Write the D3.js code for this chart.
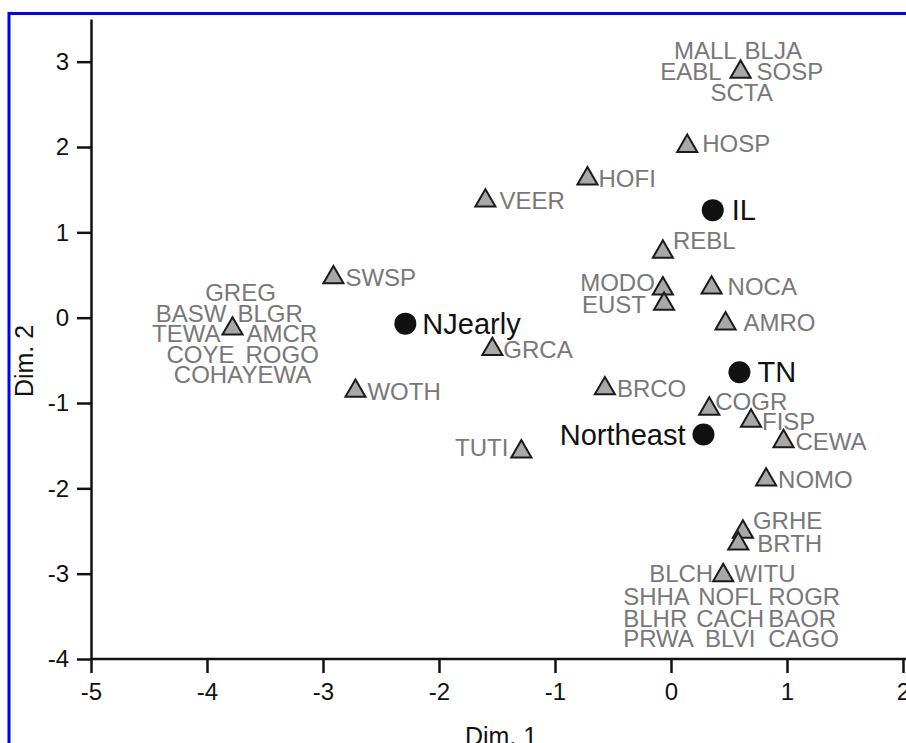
<!DOCTYPE html>
<html>
<head>
<meta charset="utf-8">
<script src="https://cdn.jsdelivr.net/npm/d3@7"></script>
<style>
  body { margin: 0; background: #fff; }
  svg { display: block; font-family: "Liberation Sans", Arial, sans-serif; }
</style>
</head>
<body>
<svg id="chart" width="906" height="743"></svg>
<script>
// sites (black circles)
const siteNames = ['NJearly', 'IL', 'TN', 'Northeast']
const siteDim1 = [-2.29, 0.36, 0.59, 0.28]
const siteDim2 = [-0.07, 1.26, -0.64, -1.37]

// species (grey triangles); each entry is a list of label rows
const speciesLabels = [
  [['SWSP']], [['VEER']], [['HOFI']], [['HOSP']], [['REBL']],
  [['MODO']], [['EUST']], [['NOCA']], [['AMRO']], [['GRCA']],
  [['BRCO']], [['COGR']], [['FISP']], [['CEWA']], [['TUTI']],
  [['NOMO']], [['GRHE']], [['BRTH']], [['WOTH']],
  [['GREG'], ['BASW', 'BLGR'], ['TEWA', 'AMCR'], ['COYE', 'ROGO'], ['COHAYEWA']],
  [['MALL', 'BLJA'], ['EABL', 'SOSP'], ['SCTA']],
  [['BLCH', 'WITU'], ['SHHA', 'NOFL', 'ROGR'], ['BLHR', 'CACH', 'BAOR'], ['PRWA', 'BLVI', 'CAGO']]
]
const speciesDim1 = [-2.91, -1.60, -0.72, 0.14, -0.07,
  -0.07, -0.06, 0.35, 0.47, -1.54,
  -0.57, 0.33, 0.69, 0.97, -1.29,
  0.82, 0.62, 0.58, -2.72,
  -3.78, 0.60, 0.45]
const speciesDim2 = [0.47, 1.37, 1.63, 2.01, 0.77,
  0.34, 0.16, 0.35, -0.07, -0.37,
  -0.83, -1.07, -1.21, -1.45, -1.57,
  -1.90, -2.51, -2.65, -0.86,
  -0.13, 2.88, -3.02]

const xTicks = [-5, -4, -3, -2, -1, 0, 1, 2]
const yTicks = [-4, -3, -2, -1, 0, 1, 2, 3]

// label placement: rows of [dy, [[anchor, dx], ...]] keyed by first code
const placement = {
  SWSP: [[0, [['start', 12]]]],
  VEER: [[0, [['start', 14]]]],
  HOFI: [[0, [['start', 11]]]],
  HOSP: [[-3, [['start', 15]]]],
  REBL: [[-12, [['start', 10]]]],
  MODO: [[-6, [['end', -8]]]],
  EUST: [[0, [['end', -18]]]],
  NOCA: [[-1, [['start', 16]]]],
  AMRO: [[-1, [['start', 18]]]],
  GRCA: [[0, [['start', 11]]]],
  BRCO: [[0, [['start', 12]]]],
  COGR: [[-8, [['start', 6]]]],
  FISP: [[0, [['start', 11]]]],
  CEWA: [[0, [['start', 12]]]],
  TUTI: [[-4, [['end', -13]]]],
  NOMO: [[0, [['start', 12]]]],
  GRHE: [[-11, [['start', 10]]]],
  BRTH: [[0, [['start', 19]]]],
  WOTH: [[0, [['start', 12]]]],
  GREG: [[-36, [['middle', 8]]], [-15.5, [['end', -6], ['start', 5]]],
    [5, [['end', -12], ['start', 14]]], [25.5, [['end', 2], ['start', 13]]],
    [46, [['middle', 10]]]],
  MALL: [[-22, [['end', -4], ['start', 4]]], [-1, [['end', -19], ['start', 16]]],
    [20, [['middle', 1]]]],
  BLCH: [[-2, [['end', -10], ['start', 11]]], [21, [['start', -100], ['middle', 7], ['start', 45]]],
    [43, [['start', -100], ['middle', 7], ['start', 45]]],
    [63, [['start', -100], ['middle', 7], ['start', 45]]]]
}

const svg = d3.select('#chart')

const x = d3.scaleLinear().domain([-5, 2]).range([91, 903])
const y = d3.scaleLinear().domain([-4, 3.5]).range([659, 19])

// blue frame (cropped at right and bottom)
svg.append('rect')
  .attr('x', 9).attr('y', 13.5)
  .attr('width', 1000).attr('height', 1000)
  .attr('fill', 'none')
  .attr('stroke', '#0000ff')
  .attr('stroke-width', 3)

const fmt = d => String(d)

const gx = svg.append('g')
  .attr('transform', `translate(0,${y(-4)})`)
  .call(d3.axisBottom(x).tickValues(xTicks).tickFormat(fmt).tickSize(14).tickSizeOuter(0).tickPadding(10))
gx.select('.domain').attr('d', `M${x(-5)},0H906`)

const gy = svg.append('g')
  .attr('transform', `translate(${x(-5)},0)`)
  .call(d3.axisLeft(y).tickValues(yTicks).tickFormat(fmt).tickSize(14).tickSizeOuter(0).tickPadding(8))

svg.selectAll('.domain, .tick line')
  .attr('stroke', '#111')
  .attr('stroke-width', 2.5)
svg.selectAll('.tick text')
  .attr('fill', '#111')
  .style('font-size', '24px')
  .style('font-family', '"Liberation Sans", Arial, sans-serif')

// axis titles
svg.append('text')
  .attr('x', 501).attr('y', 745)
  .attr('text-anchor', 'middle')
  .attr('fill', '#111')
  .style('font-size', '25px')
  .text('Dim. 1')

svg.append('text')
  .attr('transform', 'translate(33,361) rotate(-90)')
  .attr('text-anchor', 'middle')
  .attr('fill', '#111')
  .style('font-size', '25px')
  .text('Dim. 2')

// species triangles and labels
const species = speciesLabels.map((rows, i) => ({ rows, d1: speciesDim1[i], d2: speciesDim2[i] }))
const labelSize = 24

const sg = svg.append('g')
species.forEach(d => {
  const px = x(d.d1)
  const py = y(d.d2)
  const rules = placement[d.rows[0][0]]
  d.rows.forEach((row, r) => {
    const [dy, cols] = rules[r]
    row.forEach((code, c) => {
      const [anchor, dx] = cols[c]
      sg.append('text')
        .attr('x', px + dx)
        .attr('y', py + dy + labelSize * 0.36)
        .attr('text-anchor', anchor)
        .attr('fill', '#787878')
        .style('font-size', labelSize + 'px')
        .text(code)
    })
  })
})

sg.selectAll('path.tri')
  .data(species)
  .join('path')
  .attr('class', 'tri')
  .attr('transform', d => `translate(${x(d.d1)},${y(d.d2)})`)
  .attr('d', d3.symbol(d3.symbolTriangle).size(175))
  .attr('fill', '#a8a8a8')
  .attr('stroke', '#1a1a1a')
  .attr('stroke-width', 2)
  .attr('stroke-linejoin', 'miter')

// sites
const sites = siteNames.map((name, i) => ({ name, d1: siteDim1[i], d2: siteDim2[i] }))
const siteLabel = {
  NJearly: ['start', 17],
  IL: ['start', 19],
  TN: ['start', 18],
  Northeast: ['end', -18]
}
const siteG = svg.append('g')
siteG.selectAll('circle')
  .data(sites)
  .join('circle')
  .attr('cx', d => x(d.d1))
  .attr('cy', d => y(d.d2))
  .attr('r', 11)
  .attr('fill', '#111')

siteG.selectAll('text')
  .data(sites)
  .join('text')
  .attr('x', d => x(d.d1) + siteLabel[d.name][1])
  .attr('y', d => y(d.d2) + 10)
  .attr('text-anchor', d => siteLabel[d.name][0])
  .attr('fill', '#111')
  .style('font-size', '29px')
  .text(d => d.name)
</script>
</body>
</html>
